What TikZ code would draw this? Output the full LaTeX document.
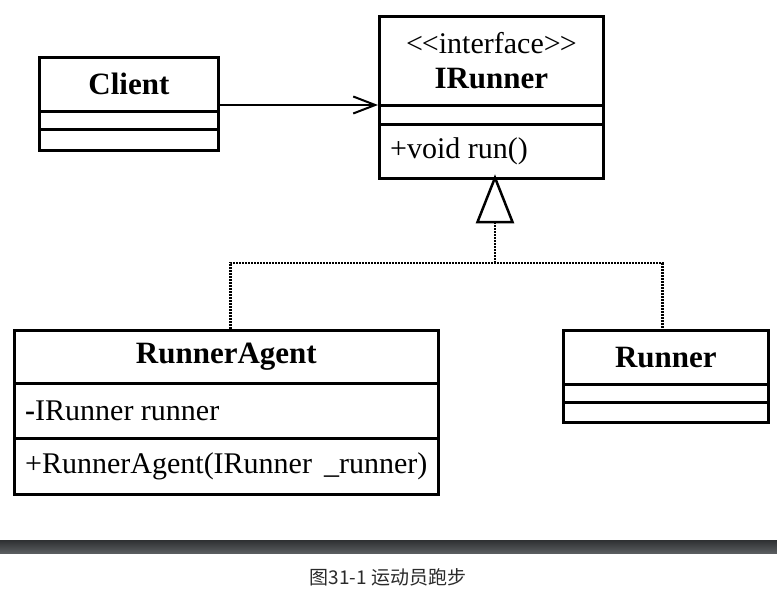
\documentclass[tikz,border=0pt]{standalone}
\usepackage{fontspec}
\setmainfont{Liberation Serif}
\newfontfamily\cjk{Noto Sans CJK SC}
\usetikzlibrary{arrows.meta}
\definecolor{bartop}{HTML}{2E3032}
\definecolor{barbottom}{HTML}{5A5D60}
\definecolor{captiongray}{HTML}{2A2A2A}
\begin{document}
\begin{tikzpicture}[x=1pt,y=-1pt,
  compart/.style={draw, line width=2.7pt, inner sep=0pt, anchor=north west},
  classname/.style={font=\fontsize{31}{35}\selectfont\bfseries, align=center},
  member/.style={font=\fontsize{30}{35}\selectfont, anchor=west, inner sep=0pt},
  assoc/.style={line width=2pt, -{Straight Barb[length=22pt,width=17pt,line width=2pt]}},
  realize/.style={line width=2.4pt, dash pattern=on 1.6pt off 1.4pt},
  hollowtip/.style={line width=2.5pt, fill=white, line join=miter}]
\useasboundingbox (0,0) rectangle (777,594);

% Client
\node[compart, classname, minimum width=179pt, minimum height=54pt] (clientname) at (38,56) {Client};
\node[compart, minimum width=179pt, minimum height=18pt] (clientattr) at (38,110) {};
\node[compart, minimum width=179pt, minimum height=21pt] (clientops) at (38,128) {};

% IRunner interface
\node[compart, classname, minimum width=224pt, minimum height=89pt] (irname) at (378,15)
  {{\mdseries\fontsize{30}{35}\selectfont <\kern-1pt<interface>\kern-1pt>}\\IRunner};
\node[compart, minimum width=224pt, minimum height=19pt] (irattr) at (378,104) {};
\node[compart, minimum width=224pt, minimum height=54pt] (irops) at (378,123) {};
\node[member] (irrun) at ([xshift=12pt]irops.west) {+void run()};

% RunnerAgent
\node[compart, classname, minimum width=424pt, minimum height=53pt] (raname) at (13,329) {RunnerAgent};
\node[compart, minimum width=424pt, minimum height=55pt] (raattr) at (13,382) {};
\node[compart, minimum width=424pt, minimum height=56pt] (raops) at (13,437) {};
\node[member] (rafield) at ([xshift=12pt]raattr.west) {\textbf{-}IRunner runner};
\node[member] (ractor) at ([xshift=12pt]raops.west) {+RunnerAgent(IRunner\hspace{0.15em} \_runner)};

% Runner
\node[compart, classname, minimum width=205pt, minimum height=54pt] (runname) at (562,329) {Runner};
\node[compart, minimum width=205pt, minimum height=18pt] (runattr) at (562,383) {};
\node[compart, minimum width=205pt, minimum height=20pt] (runops) at (562,401) {};

% association Client -> IRunner
\coordinate (assocrow) at (0,105);
\draw[assoc] (clientname.east |- assocrow) -- (irname.west |- assocrow);

% realization of IRunner
\coordinate (junc) at (495,263);
\coordinate (tipbase) at (495,222);
\draw[realize] ([xshift=4pt]raname.north) |- (junc) -| ([xshift=-3.5pt]runname.north);
\draw[realize] (junc) -- (tipbase);
\draw[hollowtip] ([yshift=2pt]irops.south -| junc) -- ([xshift=-17.5pt]tipbase) -- ([xshift=17.5pt]tipbase) -- cycle;

% caption bar
\shade[top color=bartop, bottom color=barbottom] (0,540) rectangle (777,553);
\node[font=\cjk\fontsize{19}{21}\selectfont, text=captiongray] (caption) at (388,577) {图31-1 运动员跑步};
\end{tikzpicture}
\end{document}
